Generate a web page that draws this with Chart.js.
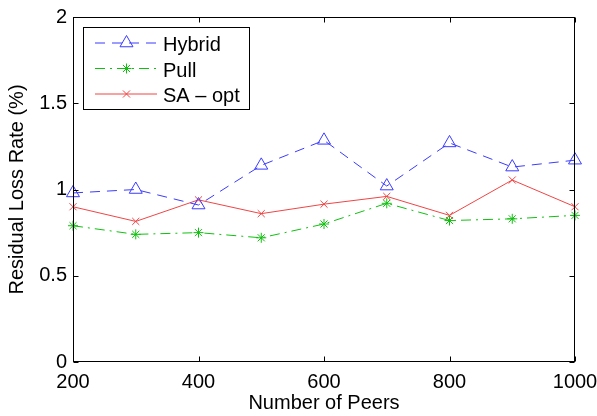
<!DOCTYPE html>
<html>
<head>
<meta charset="utf-8">
<script src="https://cdn.jsdelivr.net/npm/chart.js@4.4.0/dist/chart.umd.min.js"></script>
<style>
    html, body { margin: 0; padding: 0; background: #fff; }
    #wrap { width: 597px; height: 416px; }
</style>
</head>
<body>
<div id="wrap"><canvas id="lossChart" width="597" height="416"></canvas></div>
<script>
// Data
const peers = [200, 300, 400, 500, 600, 700, 800, 900, 1000];
const hybridLoss = [0.98, 1.0, 0.91, 1.14, 1.285, 1.02, 1.27, 1.13, 1.17];
const pullLoss = [0.79, 0.74, 0.75, 0.72, 0.80, 0.92, 0.82, 0.83, 0.85];
const saOptLoss = [0.90, 0.815, 0.94, 0.86, 0.915, 0.96, 0.85, 1.055, 0.90];
const xTicks = [200, 400, 600, 800, 1000];
const yTicks = [0, 0.5, 1, 1.5, 2];

const FONT = { family: '"Liberation Sans", Arial, Helvetica, sans-serif', size: 20 };

function toPoints(values) {
    return peers.map((p, i) => ({ x: p, y: values[i] }));
}

// MATLAB-style box with inward ticks
const boxAxes = {
    id: 'boxAxes',
    afterDatasetsDraw(chart) {
        const { ctx, chartArea: a, scales } = chart;
        const L = Math.round(a.left) + 0.5, R = Math.round(a.right) - 0.5;
        const T = Math.round(a.top) + 0.5, B = Math.round(a.bottom) - 0.5;
        ctx.save();
        ctx.strokeStyle = '#000';
        ctx.lineWidth = 1;
        ctx.setLineDash([]);
        ctx.strokeRect(L, T, R - L, B - T);
        ctx.beginPath();
        xTicks.forEach(v => {
            const px = Math.round(scales.x.getPixelForValue(v)) + 0.5;
            ctx.moveTo(px, B); ctx.lineTo(px, B - 5);
            ctx.moveTo(px, T); ctx.lineTo(px, T + 5);
        });
        yTicks.forEach(v => {
            const py = Math.round(scales.y.getPixelForValue(v)) + 0.5;
            ctx.moveTo(L, py); ctx.lineTo(L + 5, py);
            ctx.moveTo(R, py); ctx.lineTo(R - 5, py);
        });
        ctx.stroke();
        ctx.restore();
    }
};

// Legend box inside the axes, top-left
const boxLegend = {
    id: 'boxLegend',
    afterDraw(chart) {
        const ctx = chart.ctx;
        const x0 = 83.5, y0 = 27.5, w = 166, h = 82;
        ctx.save();
        ctx.fillStyle = '#fff';
        ctx.fillRect(x0, y0, w, h);
        ctx.strokeStyle = '#000';
        ctx.lineWidth = 1;
        ctx.strokeRect(x0, y0, w, h);
        chart.data.datasets.forEach((ds, i) => {
            const cy = 43 + i * 25.5;
            ctx.strokeStyle = ds.borderColor;
            ctx.lineWidth = 1;
            ctx.setLineDash(ds.borderDash || []);
            ctx.beginPath();
            ctx.moveTo(95, cy);
            ctx.lineTo(157, cy);
            ctx.stroke();
            ctx.setLineDash([]);
            ctx.fillStyle = 'rgba(0,0,0,0)';
            Chart.helpers.drawPoint(ctx, {
                pointStyle: ds.pointStyle,
                radius: ds.pointRadius,
                borderWidth: 1,
                rotation: 0
            }, 126.5, cy);
            ctx.fillStyle = '#000';
            ctx.font = `${FONT.size}px ${FONT.family}`;
            ctx.textBaseline = 'alphabetic';
            ctx.textAlign = 'left';
            ctx.fillText(ds.label, 163, cy + 8);
        });
        ctx.restore();
    }
};

const ctx = document.getElementById('lossChart').getContext('2d');
new Chart(ctx, {
    type: 'line',
    data: {
        datasets: [{
            label: 'Hybrid',
            data: toPoints(hybridLoss),
            borderColor: '#3b3bff',
            backgroundColor: 'rgba(0,0,0,0)',
            borderWidth: 1,
            borderDash: [10, 7],
            pointStyle: 'triangle',
            pointRadius: 7.5,
            pointBorderColor: '#3b3bff',
            pointBackgroundColor: 'rgba(0,0,0,0)',
            pointBorderWidth: 1,
            tension: 0,
            clip: false
        }, {
            label: 'Pull',
            data: toPoints(pullLoss),
            borderColor: '#10c010',
            backgroundColor: 'rgba(0,0,0,0)',
            borderWidth: 1,
            borderDash: [10, 5, 2, 5],
            pointStyle: 'star',
            pointRadius: 5,
            pointBorderColor: '#10c010',
            pointBackgroundColor: 'rgba(0,0,0,0)',
            pointBorderWidth: 1,
            tension: 0,
            clip: false
        }, {
            label: 'SA \u2013 opt',
            data: toPoints(saOptLoss),
            borderColor: '#f04545',
            backgroundColor: 'rgba(0,0,0,0)',
            borderWidth: 1,
            borderDash: [],
            pointStyle: 'crossRot',
            pointRadius: 5,
            pointBorderColor: '#f04545',
            pointBackgroundColor: 'rgba(0,0,0,0)',
            pointBorderWidth: 1,
            tension: 0,
            clip: false
        }]
    },
    options: {
        responsive: false,
        animation: false,
        devicePixelRatio: 1,
        layout: { padding: { top: 17, right: 22, left: 0, bottom: 0 } },
        plugins: {
            legend: { display: false },
            tooltip: { enabled: false }
        },
        scales: {
            x: {
                type: 'linear',
                min: 200,
                max: 1000,
                afterBuildTicks: s => { s.ticks = xTicks.map(v => ({ value: v })); },
                afterFit: s => { s.height = 54; s.paddingLeft = 0; s.paddingRight = 0; },
                grid: { display: false, drawTicks: false },
                border: { display: false },
                ticks: { color: '#000', font: FONT, padding: 8, maxRotation: 0, callback: v => String(v) },
                title: {
                    display: true,
                    text: 'Number of Peers',
                    color: '#000',
                    font: FONT,
                    padding: { top: 0, bottom: 1 }
                }
            },
            y: {
                min: 0,
                max: 2,
                afterBuildTicks: s => { s.ticks = yTicks.map(v => ({ value: v })); },
                afterFit: s => { s.width = 73; s.paddingTop = 0; s.paddingBottom = 0; },
                grid: { display: false, drawTicks: false },
                border: { display: false },
                ticks: { color: '#000', font: FONT, padding: 6, callback: v => String(v) },
                title: {
                    display: true,
                    text: 'Residual Loss Rate (%)',
                    color: '#000',
                    font: FONT,
                    padding: { top: 5, bottom: 0 }
                }
            }
        }
    },
    plugins: [boxAxes, boxLegend]
});
</script>
</body>
</html>
